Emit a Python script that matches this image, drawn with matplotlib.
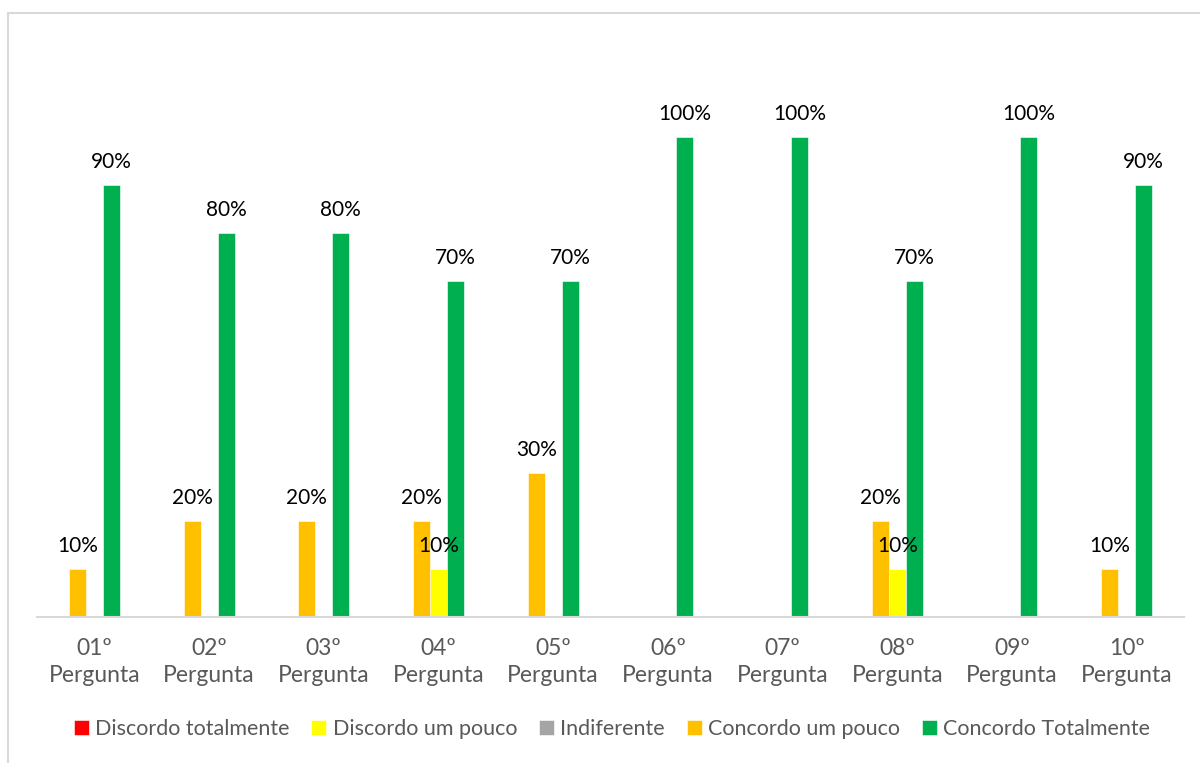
import matplotlib.pyplot as plt
import numpy as np
from matplotlib.patches import Rectangle

plt.rcParams['font.family'] = ['Lato', 'DejaVu Sans']

categories = ["01º\nPergunta", "02º\nPergunta", "03º\nPergunta", "04º\nPergunta", "05º\nPergunta",
              "06º\nPergunta", "07º\nPergunta", "08º\nPergunta", "09º\nPergunta", "10º\nPergunta"]
discordo_totalmente = [0, 0, 0, 0, 0, 0, 0, 0, 0, 0]
discordo_pouco = [0, 0, 0, 0.1, 0, 0, 0, 0.1, 0, 0]
indiferente = [0, 0, 0, 0, 0, 0, 0, 0, 0, 0]
concordo_pouco = [0.1, 0.2, 0.2, 0.2, 0.3, 0, 0, 0.2, 0, 0.1]
concordo_totalmente = [0.9, 0.8, 0.8, 0.7, 0.7, 1.0, 1.0, 0.7, 1.0, 0.9]

series = [
    ("Discordo totalmente", discordo_totalmente, "#FF0000", -2),
    ("Discordo um pouco", discordo_pouco, "#FFFF00", 0),
    ("Indiferente", indiferente, "#A5A5A5", 2),
    ("Concordo um pouco", concordo_pouco, "#FFC000", -1),
    ("Concordo Totalmente", concordo_totalmente, "#00B050", 1),
]

fig = plt.figure(figsize=(12, 7.63), dpi=100)
ax = fig.add_axes([37/1200, 146/763, 1147/1200, 576/763])

x = np.arange(len(categories))
w = 0.148
for name, vals, col, off in series:
    bars = ax.bar(x + off*w, vals, w, color=col, edgecolor="white", linewidth=0.4, label=name)
    for b, v in zip(bars, vals):
        if v > 0:
            ax.annotate(f"{v*100:.0f}%", (b.get_x() + b.get_width()/2, v),
                        xytext=(0, 12.5), textcoords="offset points",
                        ha="center", va="baseline", fontsize=15, color="black")

ax.set_xlim(-0.5, len(categories) - 0.5)
ax.set_ylim(0, 1.2)
ax.set_xticks(x)
ax.set_xticklabels(categories, fontsize=16.5, color="#595959", linespacing=1.35)
ax.tick_params(axis="x", length=0, pad=15)
ax.set_yticks([])
for s in ["top", "left", "right"]:
    ax.spines[s].set_visible(False)
ax.spines["bottom"].set_color("#D9D9D9")
ax.spines["bottom"].set_linewidth(1.5)

fig.legend(loc="center", bbox_to_anchor=(0.51, 1 - 729/763), ncol=5, frameon=False,
           fontsize=15.5, labelcolor="#595959", handlelength=0.7, handleheight=0.7,
           handletextpad=0.3, columnspacing=1.0)

fig.add_artist(Rectangle((8/1200, -0.1), 1.2, 1 - 13/763 + 0.1, transform=fig.transFigure,
                         fill=False, edgecolor="#D9D9D9", linewidth=1.5))

fig.savefig("out.png", dpi=100)
